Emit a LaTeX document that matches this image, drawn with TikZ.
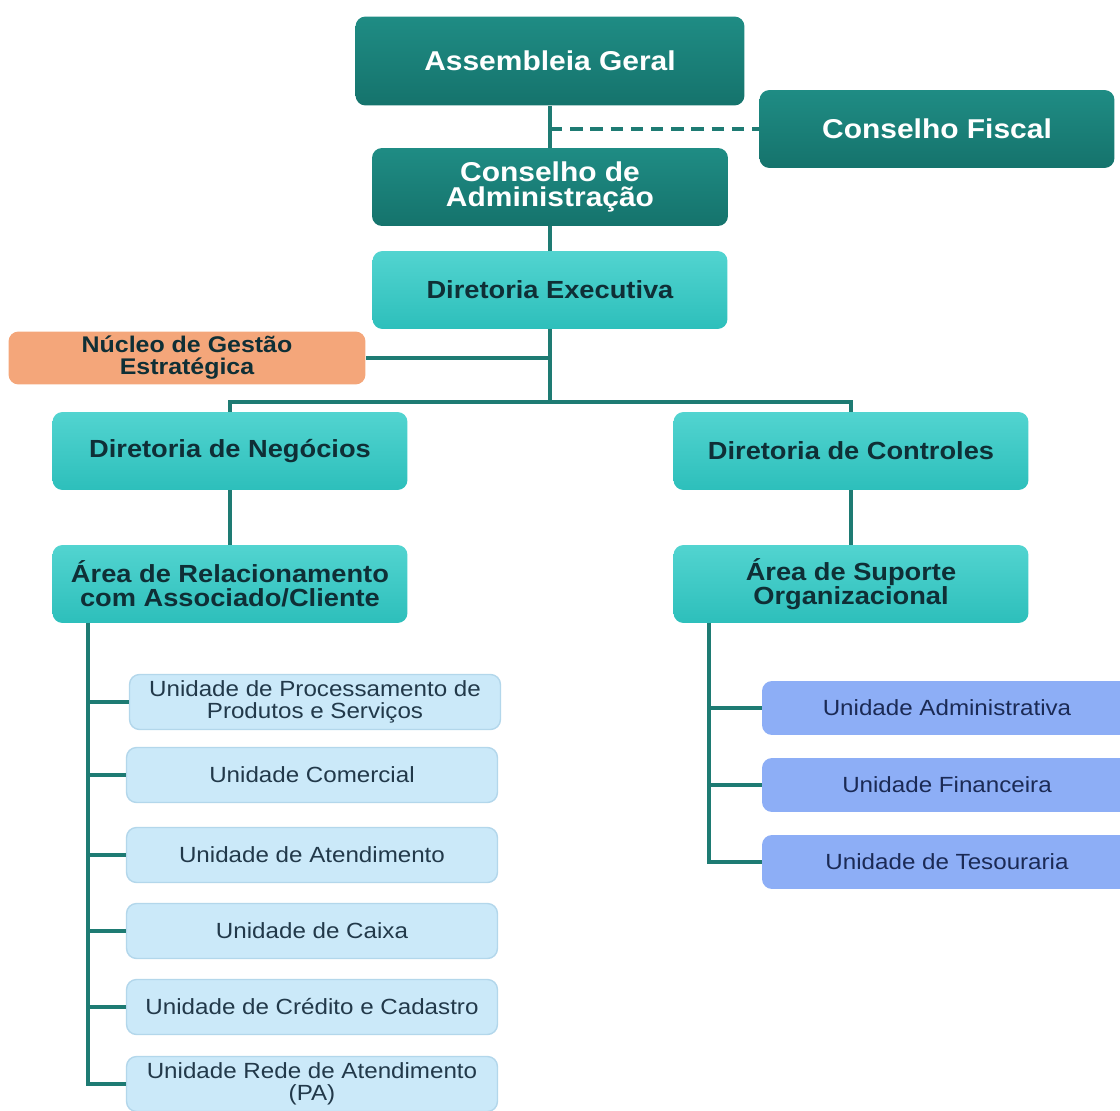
\documentclass[tikz,border=0pt]{standalone}
\usepackage{fontspec}
\setmainfont[FakeStretch=1.1]{Liberation Sans}
\usepackage{tikz}
\definecolor{deepteal}{HTML}{1F8C84}
\definecolor{deeptealdark}{HTML}{15736C}
\definecolor{turquoiseup}{HTML}{52D4D0}
\definecolor{turquoisedown}{HTML}{2DBFBB}
\definecolor{linkteal}{HTML}{1E7B73}
\definecolor{peach}{HTML}{F4A67A}
\definecolor{paleblue}{HTML}{CBE9F9}
\definecolor{palebluerim}{HTML}{B3D7EB}
\definecolor{cornflower}{HTML}{8DAEF6}
\definecolor{inkteal}{HTML}{0F2F36}
\definecolor{inkslate}{HTML}{22394A}
\definecolor{inknavy}{HTML}{1B2A55}
\tikzset{
  board/.style={rectangle, rounded corners=0.2cm, top color=deepteal, bottom color=deeptealdark,
    text=white, font=\bfseries\fontsize{15.5}{14.5}\selectfont, align=center, inner sep=0pt},
  director/.style={rectangle, rounded corners=0.2cm, top color=turquoiseup, bottom color=turquoisedown,
    text=inkteal, font=\bfseries\fontsize{14.1}{13.6}\selectfont, align=center, inner sep=0pt,
    minimum width=7.1cm, minimum height=1.56cm},
  nucleus/.style={rectangle, rounded corners=0.2cm, fill=peach, text=inkteal,
    font=\bfseries\fontsize{12.9}{12.5}\selectfont, align=center, inner sep=0pt,
    minimum width=7.14cm, minimum height=1.06cm},
  unitleft/.style={rectangle, rounded corners=0.2cm, fill=paleblue, draw=palebluerim, line width=0.8pt,
    text=inkslate, font=\fontsize{12.5}{12.5}\selectfont, align=center, inner sep=0pt,
    minimum width=7.42cm, minimum height=1.1cm},
  unitright/.style={rectangle, rounded corners=0.2cm, fill=cornflower, text=inknavy,
    font=\fontsize{12.5}{12.5}\selectfont, align=center, inner sep=0pt,
    minimum width=7.4cm, minimum height=1.08cm},
  tie/.style={draw=linkteal, line width=2pt}
}

\begin{document}
\begin{tikzpicture}[x=0.02cm, y=-0.02cm]
            \useasboundingbox (0,0) rectangle (1120,1111);
            \clip (0,0) rectangle (1120,1111);

            % Conselhos
            \node[board, minimum width=7.78cm, minimum height=1.78cm] (ag) at (550,61) {Assembleia Geral};
            \node[board, minimum width=7.1cm, minimum height=1.56cm] (cf) at (937,129) {Conselho Fiscal};
            \node[board, minimum width=7.12cm, minimum height=1.56cm] (ca) at (550,187) {Conselho de\\Administração};

            % Diretorias
            \node[director] (de) at (550,290) {Diretoria Executiva};
            \node[nucleus] (ng) at (187,358) {Núcleo de Gestão\\Estratégica};
            \node[director] (dn) at (230,451) {Diretoria de Negócios};
            \node[director] (dc) at (851,451) {Diretoria de Controles};
            \node[director] (ar) at (230,584) {Área de Relacionamento\\com Associado/Cliente};
            \node[director] (as) at (851,584) {Área de Suporte\\Organizacional};

            % Unidades
            \node[unitleft] (u1) at (315,702) {Unidade de Processamento de\\Produtos e Serviços};
            \node[unitleft] (u2) at (312,775) {Unidade Comercial};
            \node[unitleft] (u3) at (312,855) {Unidade de Atendimento};
            \node[unitleft] (u4) at (312,931) {Unidade de Caixa};
            \node[unitleft] (u5) at (312,1007) {Unidade de Crédito e Cadastro};
            \node[unitleft] (u6) at (312,1084) {Unidade Rede de Atendimento\\(PA)};

            \node[unitright] (r1) at (947,708) {Unidade Administrativa};
            \node[unitright] (r2) at (947,785) {Unidade Financeira};
            \node[unitright] (r3) at (947,862) {Unidade de Tesouraria};

            % Ligacoes
            \coordinate (hub) at (550,402);
            \coordinate (lspine) at (88,623);
            \coordinate (rspine) at (709,623);

            \draw[tie] (ag) -- (ca);
            \draw[tie, dash pattern=on 7pt off 4.5pt] (ag.south |- cf.west) -- (cf.west);
            \draw[tie] (ca) -- (de);
            \draw[tie] (de) -- (hub);
            \draw[tie] (ng.east) -- (de.south |- ng.east);
            \draw[tie] (dn.north) |- (hub) -| (dc.north);
            \draw[tie] (dn) -- (ar);
            \draw[tie] (dc) -- (as);

            \draw[tie] (lspine) |- (u6.west);
            \draw[tie] (lspine |- u1.west) -- (u1.west);
            \draw[tie] (lspine |- u2.west) -- (u2.west);
            \draw[tie] (lspine |- u3.west) -- (u3.west);
            \draw[tie] (lspine |- u4.west) -- (u4.west);
            \draw[tie] (lspine |- u5.west) -- (u5.west);

            \draw[tie] (rspine) |- (r3.west);
            \draw[tie] (rspine |- r1.west) -- (r1.west);
            \draw[tie] (rspine |- r2.west) -- (r2.west);

        \end{tikzpicture}
\end{document}
